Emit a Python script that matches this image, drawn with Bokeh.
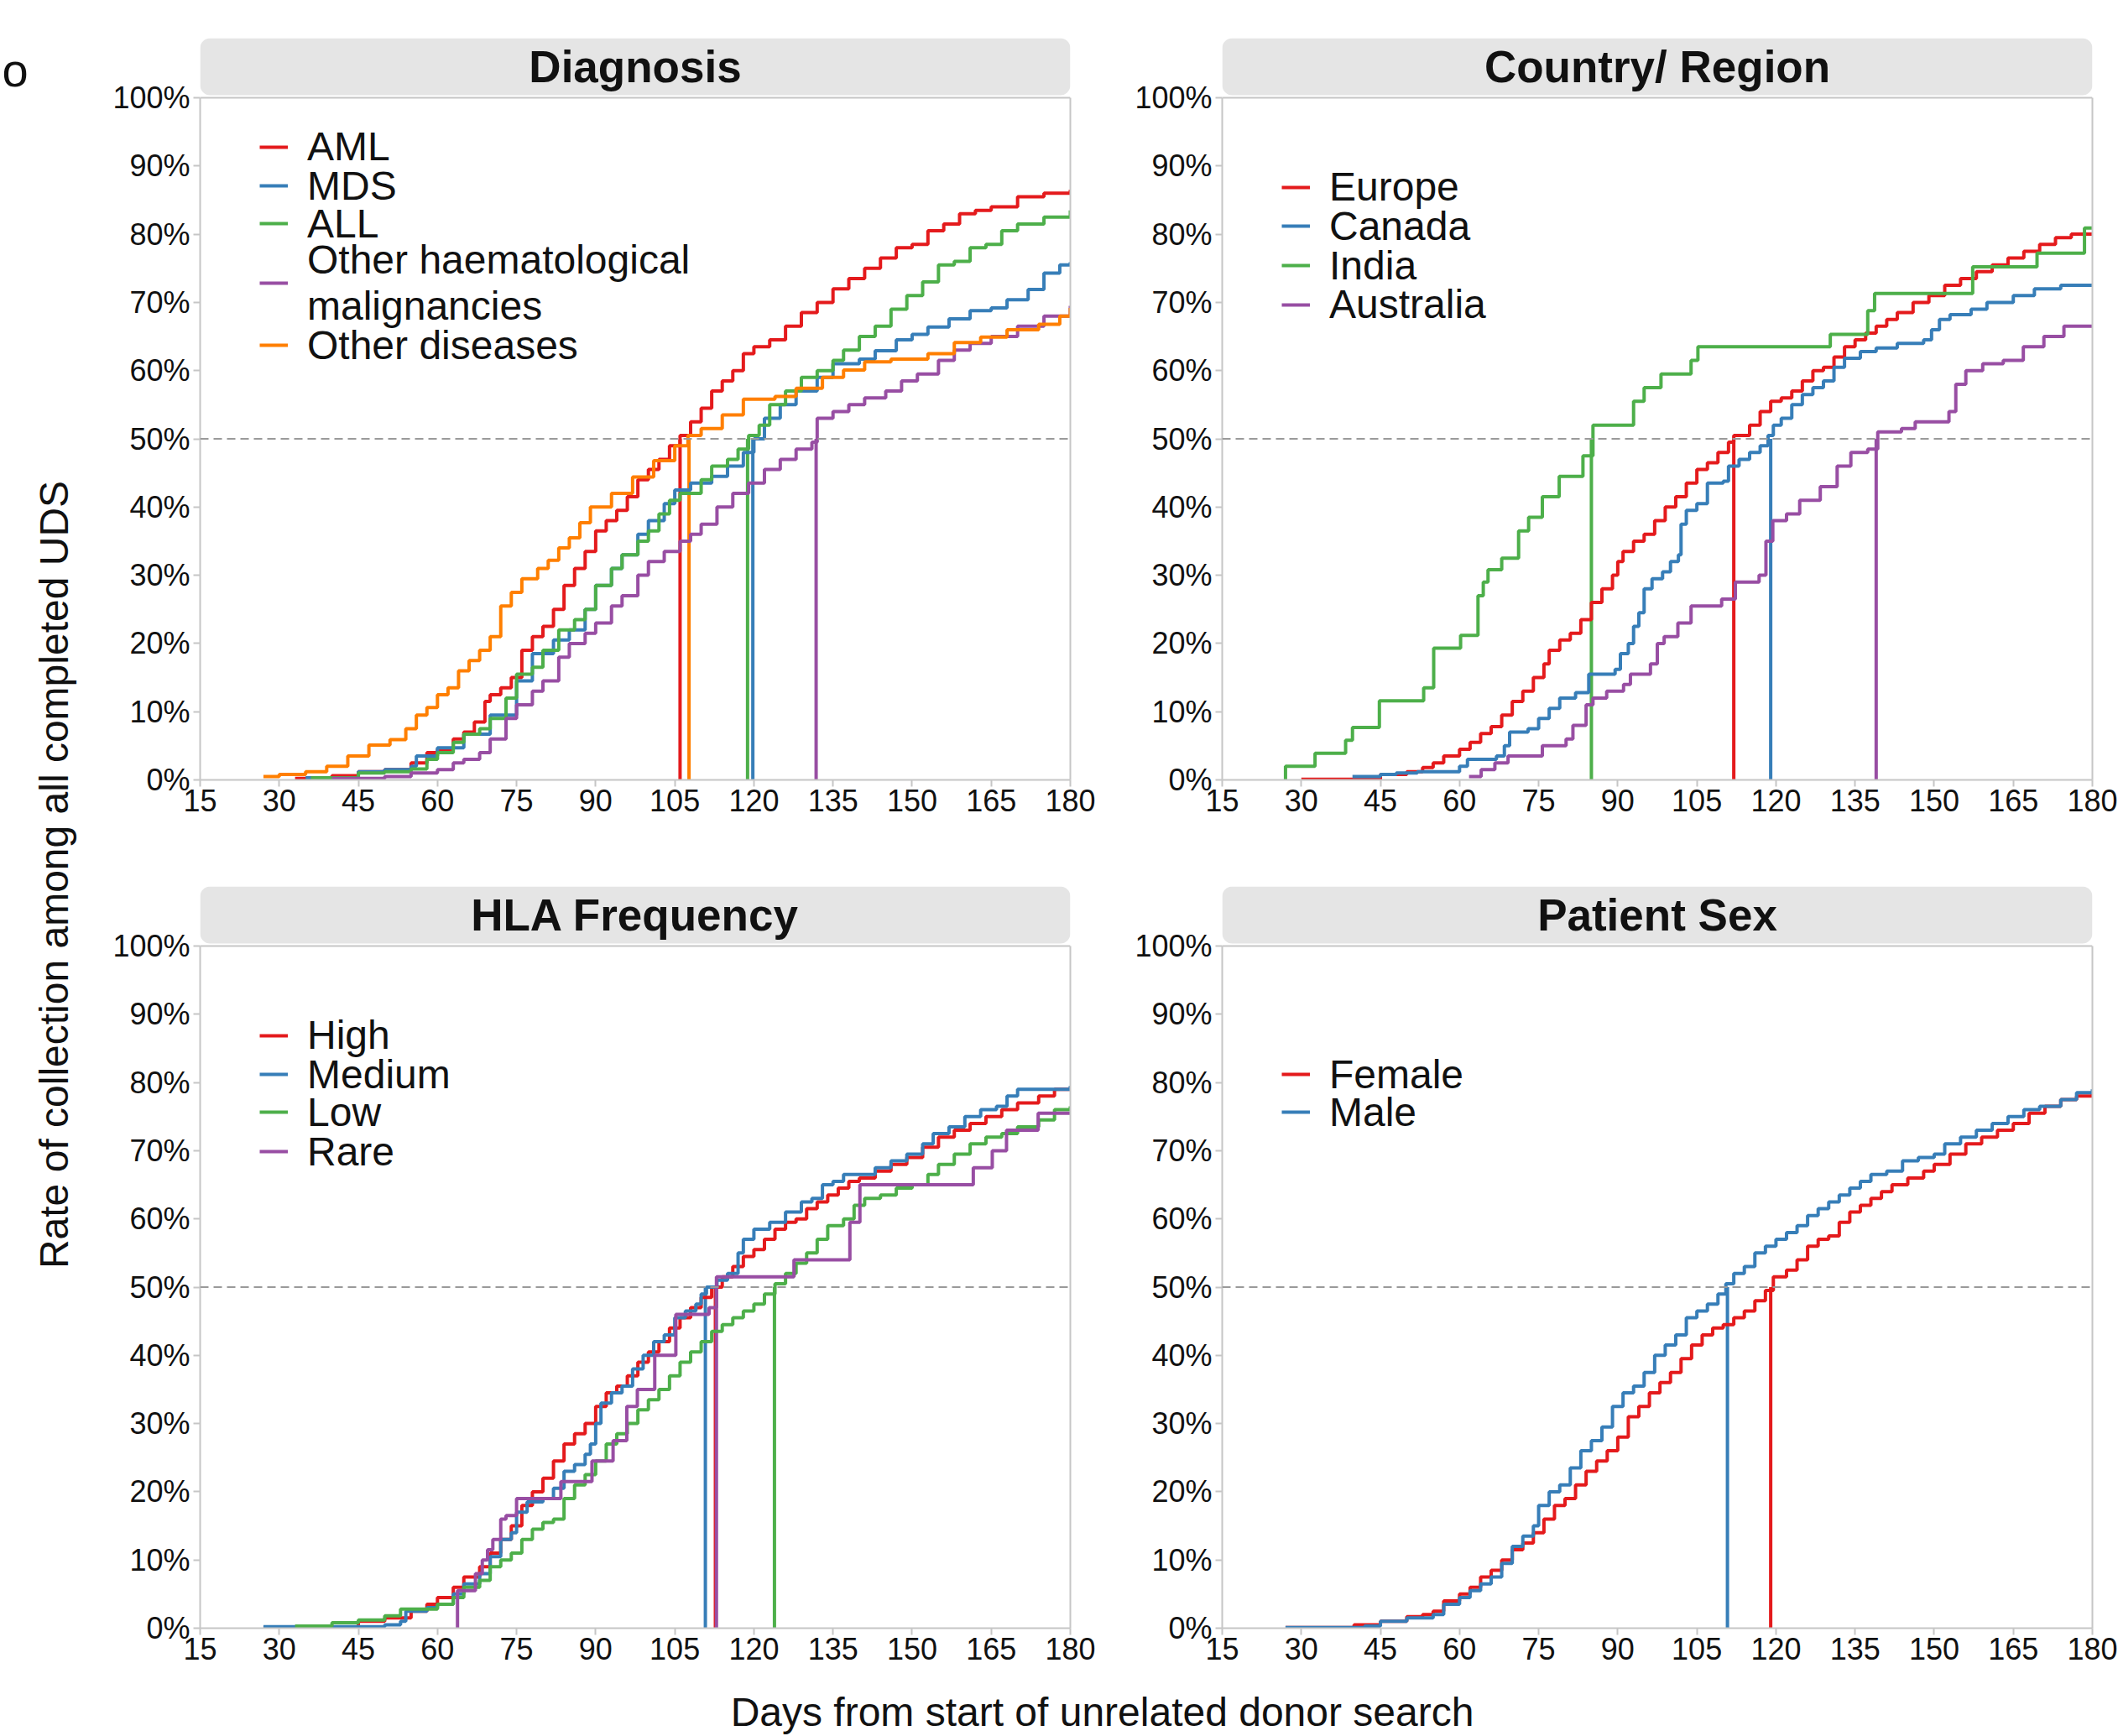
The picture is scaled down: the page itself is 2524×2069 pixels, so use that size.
import math
from bokeh.plotting import figure
from bokeh.models import (Range1d, FixedTicker, NumeralTickFormatter, LinearAxis,
                          Span, BoxAnnotation, Label, Legend, LegendItem)
from bokeh.layouts import row, column
from bokeh.embed import file_html
from bokeh.resources import INLINE

FONT = "Liberation Sans"
RED, BLUE, GREEN, PURPLE, ORANGE = "#E41A1C", "#377EB8", "#4DAF4A", "#984EA3", "#FF7F00"

X_TICKS = [15, 30, 45, 60, 75, 90, 105, 120, 135, 150, 165, 180]
Y_TICKS = [0, 10, 20, 30, 40, 50, 60, 70, 80, 90, 100]

# ---------------- Diagnosis ----------------
diag_names = ["AML", "MDS", "ALL", "Other haematological\nmalignancies", "Other diseases"]
aml_days = [33, 40, 45, 50, 55, 58, 60, 63, 65, 67, 69, 70, 72, 74, 76, 78, 80, 82, 84, 86, 88, 90, 92, 94, 96, 98,
            100, 102, 104, 106, 108, 110, 112, 114, 116, 118, 120, 123, 126, 129, 132, 135, 138, 141, 144, 147, 150,
            153, 156, 159, 162, 165, 170, 175, 180]
aml_pct = [0.2, 0.6, 1.2, 1.5, 2.5, 4, 4.5, 6, 7, 8.5, 11.5, 12.5, 13.5, 15, 19, 21, 22.5, 25, 28.5, 31, 33.5, 36.5,
           38, 39.5, 41.5, 44, 45.5, 47, 49, 50.5, 52.5, 54.5, 57, 58.5, 60, 62.5, 63.5, 64.5, 66.5, 68.5, 70, 72,
           73.5, 75, 76.5, 78, 78.5, 80.5, 81.5, 83, 83.5, 84, 85.5, 86, 86.5]
mds_days = [35, 45, 50, 55, 56, 60, 65, 70, 75, 78, 82, 85, 88, 90, 93, 95, 98, 100, 103, 105, 108, 112, 115, 118,
            120, 122, 125, 128, 132, 135, 140, 143, 147, 150, 153, 157, 161, 165, 168, 172, 175, 178, 180]
mds_pct = [0.3, 1.2, 1.5, 2, 3.5, 4.7, 6.7, 9.5, 14.5, 18.5, 20.5, 22, 25, 28.5, 31, 33, 36, 38, 40.5, 42.5, 43.5,
           44.5, 46, 48, 50, 53, 55, 57, 59, 61, 61.7, 62.9, 64.5, 65.3, 66.4, 67.6, 68.8, 69.2, 70.4, 71.9, 74.3,
           75.5, 75.9]
all_days = [36, 45, 50, 55, 58, 60, 63, 65, 68, 70, 73, 75, 78, 80, 83, 86, 88, 90, 93, 95, 98, 100, 102, 104, 106,
            110, 112, 115, 117, 119, 121, 123, 126, 129, 132, 135, 137, 140, 143, 146, 149, 152, 155, 158, 161, 164,
            167, 170, 175, 180]
all_pct = [0.3, 1, 1.2, 1.6, 3, 4, 5.5, 6.7, 7.5, 9, 12, 15.5, 16.5, 19, 22, 23.5, 25, 28.5, 31, 33, 35, 36.5, 39,
           41, 42, 44, 46, 47, 48.5, 50.5, 52, 55, 57, 59, 60, 61.5, 63, 65, 66.5, 69, 71, 73, 75.5, 76, 78, 78.5,
           80.5, 81.5, 82.5, 83.5]
oh_days = [40, 50, 55, 60, 63, 65, 68, 70, 73, 75, 78, 80, 83, 85, 88, 90, 93, 95, 98, 100, 103, 106, 108, 110, 113,
           116, 119, 122, 125, 128, 131, 132, 135, 138, 141, 145, 148, 151, 155, 158, 161, 165, 170, 175, 180]
oh_pct = [0.2, 0.5, 1, 1.5, 2.5, 3, 4, 6, 9, 11, 13, 14.5, 18, 20, 21.5, 23, 25.5, 27, 30, 32, 33.5, 35, 36, 37.5,
          40, 42, 43.5, 45.5, 47, 48.5, 49.5, 53, 54, 55, 56, 57, 58.5, 59.5, 61.5, 63, 64, 65, 66.5, 68, 69.5]
od_days = [27, 30, 35, 39, 43, 47, 51, 54, 56, 58, 60, 62, 64, 66, 68, 70, 72, 74, 76, 79, 81, 83, 85, 87, 89, 93,
           97, 101, 105, 107.5, 110, 114, 118, 124, 128, 133, 137, 141, 146, 153, 158, 163, 168, 174, 178, 180]
od_pct = [0.5, 0.8, 1.2, 2, 3.5, 5.1, 5.9, 7.5, 9.5, 10.6, 12.5, 13.5, 16, 17.5, 19, 21, 25.5, 27.5, 29.5, 31, 32.2,
          34, 35.5, 37.7, 40, 42, 44.4, 46.8, 49, 50.5, 51.5, 53.5, 55.8, 56.2, 57.4, 59, 60.1, 61.3, 61.7, 62.5,
          64.1, 64.9, 66, 66.8, 68, 69.2]
diag_medians = [106, 119.8, 118.8, 131.8, 107.7]

# ---------------- Country / Region ----------------
ctry_names = ["Europe", "Canada", "India", "Australia"]
eu_days = [30, 45, 50, 53, 55, 57, 60, 62, 64, 66, 68, 70, 72, 74, 76, 77, 79, 81, 83, 85, 87, 89, 90, 91, 93, 95,
           97, 99, 101, 103, 105, 107, 109, 111, 112, 115, 117, 119, 121, 123, 125, 127, 129, 131, 133, 135, 137,
           139, 141, 143, 146, 149, 152, 155, 158, 161, 164, 167, 170, 173, 176, 180]
eu_pct = [0.1, 0.8, 1.2, 1.8, 2.5, 3.5, 4.5, 5.5, 6.8, 7.8, 9.5, 11.5, 13, 15, 17, 19, 20.5, 21.5, 23.5, 26, 28, 30,
          32, 33.5, 35, 36, 38, 40, 41.5, 43.5, 45.5, 46.5, 48, 49.5, 50.5, 52, 54, 55.5, 56, 57, 58.5, 60, 60.5, 62,
          63.5, 64.5, 65.5, 66.5, 67.5, 68.5, 70, 71, 72.5, 73.5, 74.5, 75.5, 76.5, 77.5, 78.5, 79.5, 80, 80]
ca_days = [39.7, 45, 48, 52, 60, 61.5, 67, 68.5, 69.5, 73, 75, 77, 79, 82, 84.5, 89.5, 90.5, 92, 93, 94, 95, 96.5,
           98.5, 100, 101.5, 102, 103, 105, 107, 110, 111, 113, 115, 117, 118.5, 119.5, 121, 123, 125, 127, 129, 131,
           133, 136, 139, 143, 148, 149.5, 151, 153, 157, 160, 165, 169, 174, 180]
ca_pct = [0.5, 0.8, 1.0, 1.2, 2.0, 3.0, 3.5, 5.0, 7.0, 7.5, 9.0, 10.5, 12.0, 12.8, 15.5, 16.2, 18.5, 20.0, 22.5,
          24.5, 28.0, 29.5, 30.5, 32.0, 33.0, 37.5, 39.5, 40.5, 43.5, 43.8, 46.0, 47.0, 48.0, 49.0, 50.5, 52.0, 53.0,
          55.0, 56.5, 57.5, 58.5, 60.5, 61.8, 62.8, 63.3, 64.0, 64.5, 66.0, 67.5, 68.2, 69.0, 70.0, 71.0, 72.0, 72.5,
          72.5]
in_days = [27, 27, 32.6, 38.4, 39.7, 44.8, 53.2, 55.1, 60.2, 63.5, 64.5, 65.4, 68.0, 71.2, 73.1, 75.7, 78.9, 83.4,
           85.3, 93.0, 95.0, 98.2, 103.9, 105.2, 130.3, 137.4, 138.7, 157.3, 169.5, 178.5, 180]
in_pct = [0, 2.0, 3.9, 5.8, 7.7, 11.6, 13.5, 19.3, 21.2, 27.0, 29.0, 30.8, 32.5, 36.5, 38.5, 41.5, 44.5, 47.5, 52.0,
          55.5, 57.5, 59.5, 61.5, 63.5, 65.3, 68.8, 71.3, 75.2, 77.2, 80.9, 80.9]
au_days = [61.8, 64.1, 66.7, 69.2, 75.7, 80.2, 81.5, 84.0, 85.3, 87.9, 91.1, 92.4, 96.2, 97.5, 98.8, 101.4, 103.9,
           109.7, 112.3, 116.8, 118.1, 119.4, 122.0, 124.5, 128.4, 131.6, 134.2, 137.4, 139.3, 143.8, 146.4, 152.8,
           154.1, 156.0, 159.2, 163.1, 166.9, 170.8, 174.6, 180]
au_pct = [0.5, 1.5, 2.5, 3.5, 5, 6, 8, 11, 12, 13, 14, 15.5, 17, 20, 21, 23, 25.5, 26.5, 29, 30, 35, 38, 39, 41, 43,
          46, 48, 48.5, 51, 51.5, 52.5, 54, 58, 60, 61, 61.5, 63.5, 65, 66.5, 66.5]
ctry_medians = [112, 119, 85, 139]

# ---------------- HLA Frequency ----------------
hla_names = ["High", "Medium", "Low", "Rare"]
hi_days = [27, 45, 50, 55, 58, 60, 63, 65, 68, 70, 72, 74, 76, 78, 80, 82, 84, 86, 88, 90, 92, 94, 96, 98, 100, 102,
           104, 106, 108, 110, 112, 114, 116, 118, 120, 122, 124, 126, 128, 130, 132, 134, 136, 138, 140, 143, 146,
           149, 152, 155, 158, 161, 164, 167, 170, 174, 177, 180]
hi_pct = [0.1, 1, 1.5, 2.5, 3.5, 4.5, 6, 7.5, 9, 11, 13, 15, 18, 20, 22, 24.5, 27, 28.5, 30, 32.5, 34.5, 35.5, 37, 39,
          40.5, 42, 44, 45.5, 47, 48.5, 50, 51.5, 53, 54.5, 55.5, 57, 58.5, 59.5, 60, 61.5, 62.5, 63.5, 64.5, 65.5,
          66, 67, 68, 69, 70.5, 72, 73, 74, 75, 76, 77, 78, 79, 79]
me_days = [27, 50, 53, 54, 58, 60, 63, 65, 68, 70, 72, 74, 75, 77, 80, 82, 84, 86, 88, 89, 90, 91, 93, 95, 97, 99,
           101, 103, 105, 107, 109, 110, 111, 113, 115, 117, 118, 120, 123, 126, 129, 131, 133, 135, 137, 140, 143,
           146, 149, 152, 154, 157, 160, 163, 166, 168, 170, 175, 180]
me_pct = [0.2, 0.5, 1, 2.5, 3, 3.5, 5, 6.5, 8, 10.5, 13, 14, 17, 18.5, 19, 20.5, 23, 24, 25.5, 27, 30, 33, 34.5, 35.5,
          38, 40, 42, 43, 45.5, 46.5, 47.5, 49, 50, 51, 52, 55, 57, 58.5, 59.5, 61, 62.5, 63, 65, 65.5, 66.5, 66.5,
          67.5, 68.5, 69.5, 71, 72.5, 73.5, 75, 76, 76.5, 78, 79, 79, 79.5]
lo_days = [33, 40, 45, 50, 53, 57, 60, 63, 65, 68, 70, 72, 74, 76, 78, 80, 82, 84, 86, 88, 90, 92, 94, 96, 98, 100,
           102, 104, 106, 108, 110, 112, 114, 116, 118, 120, 122, 124, 126, 128, 130, 132, 134, 137, 139, 141, 144,
           147, 150, 153, 155, 158, 161, 164, 167, 170, 174, 177, 180]
lo_pct = [0.3, 0.8, 1.2, 1.8, 2.8, 2.8, 3.5, 4.5, 6, 7, 9, 10, 11, 13, 14.5, 15.5, 16, 19, 21, 22.5, 24.5, 27, 28.5,
          30, 32, 33.5, 35, 37, 39, 40.5, 42, 43.5, 44.5, 45.5, 46.5, 47.5, 49, 50.5, 52, 53.5, 55, 57, 59, 60, 62,
          63, 63.5, 64.5, 65, 66.5, 68, 69.5, 71, 72, 72.5, 73.5, 74.5, 76, 76.5]
ra_days = [63.8, 63.8, 67.2, 68.5, 69.5, 70.5, 72, 73, 75, 83.4, 89.3, 93.3, 95.9, 97.9, 101.2, 105.2, 111.5, 112.9,
           127.6, 138.2, 140.1, 161.6, 165.2, 167.9, 173.9, 180]
ra_pct = [0, 5.5, 8, 10, 11.5, 13, 16, 16.5, 19, 21.5, 24.5, 27.5, 32.5, 35, 40, 46, 47, 51.5, 54, 59.5, 65, 67.5,
          70, 73, 75.5, 75.5]
hla_medians = [112.7, 110.8, 123.9, 112.9]

# ---------------- Patient Sex ----------------
sex_names = ["Female", "Male"]
fe_days = [27, 40, 45, 50, 53, 55, 57, 60, 62, 64, 66, 68, 70, 72, 74, 76, 78, 80, 82, 84, 86, 88, 90, 92, 94, 96,
           98, 100, 102, 104, 106, 108, 110, 112, 114, 116, 118, 119.5, 122, 124, 126, 128, 130, 132, 134, 136, 138,
           140, 142, 145, 148, 150, 153, 156, 159, 162, 165, 168, 171, 174, 177, 180]
fe_pct = [0.1, 0.5, 1, 1.7, 2, 2.5, 4, 5, 6, 7.5, 8.5, 10, 11.5, 12.5, 14, 16, 18, 19, 21, 23, 24.5, 26, 28, 31, 32.5,
          34.5, 36, 37.5, 39.5, 41.5, 43, 44, 44.5, 45.5, 46.5, 48, 49.5, 51.5, 52.5, 54, 56, 57, 57.5, 59.5, 61, 62,
          63, 64, 65, 66, 67, 68, 69.5, 71, 72, 73, 74, 75.5, 76.5, 77.5, 78, 78.5]
ma_days = [27, 42, 45, 50, 55, 57, 60, 62, 64, 66, 68, 70, 72, 74, 75, 77, 79, 81, 83, 85, 87, 89, 91, 93, 95, 97,
           99, 101, 103, 105, 107, 109, 110.5, 112, 114, 116, 118, 120, 122, 124, 126, 128, 130, 132, 134, 136, 138,
           141, 144, 147, 150, 152, 155, 158, 161, 164, 167, 170, 174, 177, 180]
ma_pct = [0.1, 0.3, 1, 1.5, 2, 3.5, 4.5, 5.5, 6.5, 7.5, 9.5, 12, 13.5, 15, 18, 20, 21, 23.5, 26, 27.5, 29.5, 32.5,
          34.5, 35.5, 37.5, 40, 41.5, 43, 45.5, 46.5, 47.5, 49, 50.5, 52, 53, 55, 56, 57, 58, 59, 60.5, 61.5, 62.5,
          63.5, 64.5, 65.5, 66.5, 67, 68.5, 69, 69.5, 71, 72, 73, 74, 75, 76, 76.5, 77.5, 78.5, 79]
sex_medians = [119, 110.8]

# ---------------- layout constants ----------------
PLOT_H = 813          # px of the 0..100% area
FRAME_H = 884         # frame incl. strip
STRIP_GAP = 3
AXIS_GRAY = "#c6c6c6"
LEG_FONT = 48
LEG_H1 = 56           # estimated single-line legend row height
LEG_LINE = 51.5       # pitch between the lines of a two-line label


def make_panel(title, names, colors, days_list, pct_list, medians,
               fig_w, b_left, b_right, fig_h, b_top, b_bottom, leg_x, leg_centers):
    y_top = FRAME_H / PLOT_H
    p = figure(width=fig_w, height=fig_h, x_range=Range1d(15, 180), y_range=Range1d(0, y_top),
               output_backend="svg", toolbar_location=None,
               min_border_left=b_left, min_border_right=b_right,
               min_border_top=b_top, min_border_bottom=b_bottom)
    p.outline_line_color = None
    p.grid.visible = False
    p.xaxis.ticker = FixedTicker(ticks=X_TICKS)
    p.yaxis.ticker = FixedTicker(ticks=[v / 100 for v in Y_TICKS])
    p.yaxis.formatter = NumeralTickFormatter(format="0%")
    p.yaxis.bounds = (0, 1)
    for ax in (p.xaxis, p.yaxis):
        ax.axis_line_color = AXIS_GRAY
        ax.axis_line_width = 2
        ax.major_tick_line_color = AXIS_GRAY
        ax.major_tick_line_width = 2
        ax.major_tick_out = 8
        ax.major_tick_in = 0
        ax.minor_tick_out = 0
        ax.minor_tick_in = 0
        ax.major_label_text_font = FONT
        ax.major_label_text_font_size = "36px"
        ax.major_label_text_color = "#111111"
    p.xaxis.major_label_standoff = 3
    p.yaxis.major_label_standoff = 4

    right = LinearAxis(bounds=(0, 1), ticker=FixedTicker(ticks=[]), axis_line_color=AXIS_GRAY,
                       axis_line_width=2, major_tick_out=0, major_tick_in=0, minor_tick_out=0,
                       minor_tick_in=0, major_label_text_font_size="0px")
    p.add_layout(right, "right")
    p.add_layout(Span(location=1, dimension="width", line_color=AXIS_GRAY, line_width=2))

    strip_bottom = 1 + STRIP_GAP / PLOT_H
    p.add_layout(BoxAnnotation(left=15, right=180, bottom=strip_bottom, top=y_top,
                               fill_color="#e5e5e5", fill_alpha=1.0, line_color=None,
                               border_radius=12, level="underlay"))
    p.add_layout(Label(x=97.5, y=(strip_bottom + y_top) / 2, text=title, text_align="center",
                       text_baseline="middle", text_font=FONT, text_font_size="53px",
                       text_font_style="bold", text_color="#111111"))

    p.add_layout(Span(location=0.5, dimension="width", line_color="#9a9a9a", line_width=2,
                      line_dash="10 6"))

    p.segment(x0=medians, y0=[0] * len(medians), x1=medians, y1=[0.5] * len(medians),
              line_color=colors, line_width=4)

    for name, col, d, v, c in zip(names, colors, days_list, pct_list, leg_centers):
        r = p.step(x=d, y=[q / 100 for q in v], mode="after", line_color=col, line_width=4)
        n_lines = name.count("\n") + 1
        h = LEG_H1 + (n_lines - 1) * LEG_LINE
        vy = FRAME_H - c - h / 2
        legend = Legend(items=[LegendItem(label=name, renderers=[r])], location=(leg_x, vy),
                        glyph_width=34, glyph_height=20, label_standoff=23,
                        label_text_font=FONT, label_text_font_size=f"{LEG_FONT}px",
                        label_text_color="#111111", label_text_line_height=0.92,
                        spacing=0, padding=0, margin=0, border_line_color=None,
                        background_fill_alpha=0)
        p.add_layout(legend)
    return p


COLS5 = [RED, BLUE, GREEN, PURPLE, ORANGE]

TOP_H = 1000
BOT_H = 998
XLAB_H = 2069 - TOP_H - BOT_H

# legend row centres, px below the top of the strip
tl = make_panel("Diagnosis", diag_names, COLS5,
                [aml_days, mds_days, all_days, oh_days, od_days],
                [aml_pct, mds_pct, all_pct, oh_pct, od_pct], diag_medians,
                1222, 130, 55, TOP_H, 45, 71, 71, [129, 175.5, 220.6, 293, 365.5])
tr = make_panel("Country/ Region", ctry_names, COLS5[:4],
                [eu_days, ca_days, in_days, au_days], [eu_pct, ca_pct, in_pct, au_pct], ctry_medians,
                1194, 126, 31, TOP_H, 45, 71, 71, [177, 223.8, 270.5, 317.2])
bl = make_panel("HLA Frequency", hla_names, COLS5[:4],
                [hi_days, me_days, lo_days, ra_days], [hi_pct, me_pct, lo_pct, ra_pct], hla_medians,
                1222, 130, 55, BOT_H, 56, 58, 71, [177, 223.7, 268.8, 315.5])
br = make_panel("Patient Sex", sex_names, COLS5[:2],
                [fe_days, ma_days], [fe_pct, ma_pct], sex_medians,
                1194, 126, 31, BOT_H, 56, 58, 71, [223.7, 268.8])

# y-axis title strip
YLAB_H = TOP_H + BOT_H
ylab = figure(width=108, height=YLAB_H, x_range=Range1d(0, 108), y_range=Range1d(0, YLAB_H),
              output_backend="svg", toolbar_location=None, x_axis_type=None, y_axis_type=None,
              min_border=0, outline_line_color=None)
ylab.grid.visible = False
ylab.add_layout(Label(x=64, y=YLAB_H - 1042, text="Rate of collection among all completed UDS",
                      angle=math.pi / 2, text_align="center", text_baseline="middle", text_font=FONT,
                      text_font_size="48px", text_color="#111111"))
ylab.add_layout(Label(x=2, y=YLAB_H - 83, text="o", text_align="left", text_baseline="middle",
                      text_font=FONT, text_font_size="56px", text_color="#111111"))

# x-axis title strip
xlab = figure(width=2524, height=XLAB_H, x_range=Range1d(0, 2524), y_range=Range1d(0, XLAB_H),
              output_backend="svg", toolbar_location=None, x_axis_type=None, y_axis_type=None,
              min_border=0, outline_line_color=None)
xlab.grid.visible = False
xlab.add_layout(Label(x=1313, y=29, text="Days from start of unrelated donor search", text_align="center",
                      text_baseline="middle", text_font=FONT, text_font_size="48px",
                      text_color="#111111"))

layout = column(row(ylab, column(row(tl, tr), row(bl, br))), xlab)

open("out.html", "w").write(file_html(layout, INLINE))
